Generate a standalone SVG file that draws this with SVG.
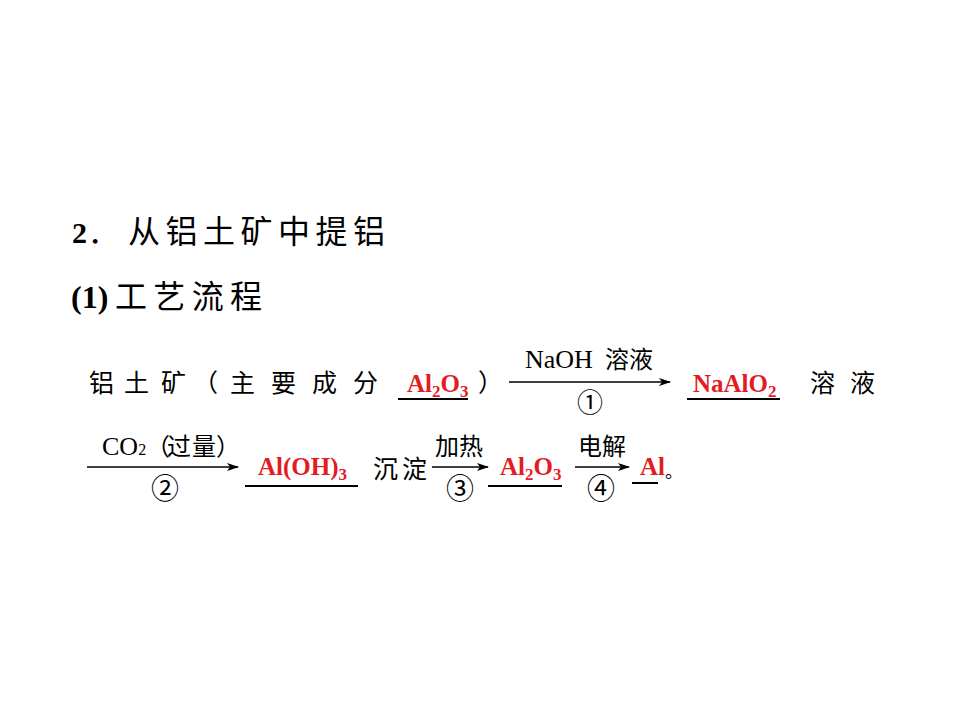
<svg xmlns="http://www.w3.org/2000/svg" width="960" height="720" viewBox="0 0 960 720">
<style>
.cn{font-family:"Noto Sans CJK SC","Liberation Serif",serif;fill:#000}
.lat{font-family:"Liberation Serif","Noto Sans CJK SC",serif;fill:#000}
.red{font-family:"Liberation Serif",serif;font-weight:bold;fill:#e31b23;font-size:25px}
.sub{font-size:17px}
.num{font-family:"Noto Sans CJK SC",sans-serif;fill:#000;text-anchor:middle}
.ul{stroke:#000;stroke-width:2}
.arr{stroke:#000;stroke-width:1.5;fill:none;marker-end:url(#ah)}
</style>
<defs>
<marker id="ah" viewBox="0 0 12 8" refX="11" refY="4" markerWidth="12" markerHeight="8" markerUnits="userSpaceOnUse" orient="auto">
<path d="M0,0 L12,4 L0,8 L3,4 Z" fill="#000"/>
</marker>
</defs>
<rect width="960" height="720" fill="#fff"/>
<g id="title">
<text x="72" y="243" class="lat" font-size="30" font-weight="bold">2</text>
<text x="88" y="243" class="cn" font-size="30">．</text>
<text x="128" y="243" class="cn" font-size="32" textLength="257" lengthAdjust="spacing">从铝土矿中提铝</text>
</g>
<g id="subtitle">
<text x="71" y="308" class="lat" font-size="32" font-weight="bold">(1)</text>
<text x="115" y="308" class="cn" font-size="32" textLength="147" lengthAdjust="spacing">工艺流程</text>
</g>
<g id="bauxite">
<text y="392" class="cn" font-size="25" x="89 124 161 193 230 271 312 353">铝土矿（主要成分</text>
</g>
<g id="al2o3-1">
<line x1="398" y1="399" x2="468" y2="399" class="ul"/>
<text x="407" y="392" class="red">Al<tspan class="sub" dy="5">2</tspan><tspan dy="-5">O</tspan><tspan class="sub" dy="5">3</tspan></text>
<text x="478" y="392" class="cn" font-size="25">）</text>
</g>
<g id="naalo2">
<line x1="687" y1="399" x2="780" y2="399" class="ul"/>
<text x="693" y="392" class="red">NaAlO<tspan class="sub" dy="5">2</tspan></text>
<text y="392" class="cn" font-size="25" x="810 850">溶液</text>
</g>
<g id="aloh3">
<line x1="245" y1="486" x2="358" y2="486" class="ul"/>
<text x="258" y="475" class="red">Al(OH)<tspan class="sub" dy="5">3</tspan></text>
<text y="478" class="cn" font-size="25" x="373 402">沉淀</text>
</g>
<g id="al2o3-2">
<line x1="488" y1="486" x2="562" y2="486" class="ul"/>
<text x="500" y="475" class="red">Al<tspan class="sub" dy="5">2</tspan><tspan dy="-5">O</tspan><tspan class="sub" dy="5">3</tspan></text>
</g>
<g id="al">
<line x1="632" y1="483" x2="658" y2="483" class="ul"/>
<text x="640" y="475" class="red">Al</text>
<text x="665" y="478" class="cn" font-size="18">。</text>
</g>
<g id="connectors">
<line x1="509" y1="382" x2="670" y2="382" class="arr"/>
<text x="525" y="368" class="lat" font-size="26">NaOH</text>
<text x="605" y="368" class="cn" font-size="24">溶液</text>
<text x="590" y="412" class="num" font-size="26">①</text>
<line x1="87" y1="467" x2="238" y2="467" class="arr"/>
<text x="102" y="455" class="lat" font-size="26">CO<tspan font-size="16">2</tspan></text>
<text y="455" class="cn" font-size="24" x="146 167 192 216">（过量）</text>
<text x="165" y="499" class="num" font-size="28">②</text>
<line x1="432" y1="467" x2="488" y2="467" class="arr"/>
<text x="435" y="455" class="cn" font-size="24">加热</text>
<text x="460" y="499" class="num" font-size="28">③</text>
<line x1="575" y1="467" x2="629" y2="467" class="arr"/>
<text x="578" y="455" class="cn" font-size="24">电解</text>
<text x="601" y="499" class="num" font-size="28">④</text>
</g>
</svg>
